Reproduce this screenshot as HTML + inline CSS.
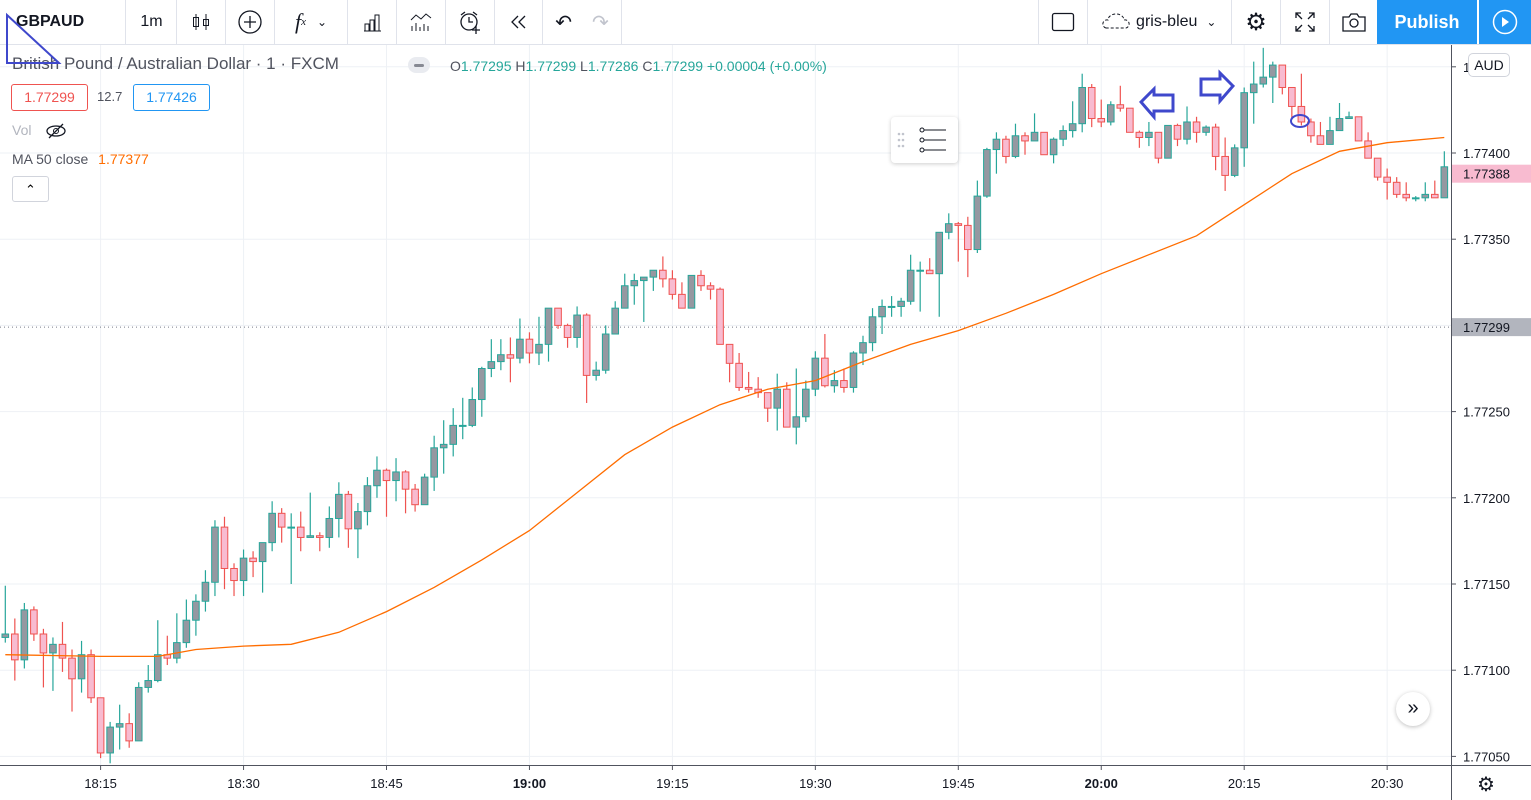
<!DOCTYPE html>
<html><head><meta charset="utf-8"><style>
body{margin:0;width:1531px;height:800px;overflow:hidden;background:#fff;font-family:"Liberation Sans",sans-serif;position:relative}
.tb{position:absolute;left:0;top:0;width:1531px;height:44px;border-bottom:1px solid #e0e3eb;background:#fff}
.ti{position:absolute;top:0;height:44px;display:flex;align-items:center;justify-content:center;font-size:16px;color:#131722;border-right:1px solid #e0e3eb}
.lg{position:absolute;font-size:16px;color:#50535e;white-space:nowrap}
.ax{position:absolute;font-size:13px;color:#131722}
</style></head><body>
<div class="tb">
<div class="ti" style="left:0;width:126px;font-weight:bold;justify-content:flex-start;padding-left:16px;box-sizing:border-box">GBPAUD</div>
<div class="ti" style="left:127px;width:49px">1m</div>
<div class="ti" style="left:177px;width:48px"><svg width="22" height="22"><path d="M6 3v16M16 3v16" stroke="#131722"/><rect x="3.5" y="6.5" width="5" height="9" fill="none" stroke="#131722"/><rect x="13.5" y="8.5" width="5" height="6" fill="none" stroke="#131722"/></svg></div>
<div class="ti" style="left:226px;width:48px"><svg width="24" height="24"><circle cx="12" cy="12" r="11" fill="none" stroke="#131722" stroke-width="1.3"/><path d="M12 6v12M6 12h12" stroke="#131722" stroke-width="1.3"/></svg></div>
<div class="ti" style="left:275px;width:72px;font-style:italic;font-family:'Liberation Serif',serif;font-size:22px">f<sub style="font-size:11px">x</sub>&nbsp;&nbsp;<span style="font-size:12px;font-style:normal">&#8964;</span></div>
<div class="ti" style="left:348px;width:48px"><svg width="22" height="22"><path d="M3 20h17M4 20v-7h4v7M9 20v-11h4v11M14 20v-16h4v16" fill="none" stroke="#131722"/></svg></div>
<div class="ti" style="left:397px;width:48px"><svg width="24" height="22"><path d="M2 9l5-5 5 4 5-5 5 4" fill="none" stroke="#131722"/><path d="M3 20v-5M7 20v-8M11 20v-4M15 20v-7M19 20v-5" stroke="#131722"/></svg></div>
<div class="ti" style="left:446px;width:48px"><svg width="26" height="26"><circle cx="12" cy="13" r="8" fill="none" stroke="#131722" stroke-width="1.3"/><path d="M12 8v5h4M4 6l4-3M20 6l-4-3M19 17v8M15 21h8" fill="none" stroke="#131722" stroke-width="1.3"/></svg></div>
<div class="ti" style="left:495px;width:47px"><svg width="20" height="16"><path d="M9 2L3 8l6 6M16 2l-6 6 6 6" fill="none" stroke="#131722" stroke-width="1.3"/></svg></div>
<div class="ti" style="left:543px;width:78px;gap:20px"><span style="font-size:20px">&#8630;</span><span style="font-size:20px;color:#c1c4cd">&#8631;</span></div>
<div class="ti" style="left:1038px;width:48px;border-left:1px solid #e0e3eb"><svg width="24" height="20"><rect x="1.5" y="1.5" width="21" height="17" rx="2" fill="none" stroke="#131722" stroke-width="1.3"/></svg></div>
<div class="ti" style="left:1087px;width:144px"><svg width="30" height="20"><path d="M4 16a4 4 0 0 1 2-8 8 6 0 0 1 16 0 4 4 0 0 1 2 8z" fill="none" stroke="#131722" stroke-dasharray="3 2"/></svg>&nbsp;gris-bleu&nbsp;&nbsp;<span style="font-size:12px">&#8964;</span></div>
<div class="ti" style="left:1232px;width:48px;font-size:24px">&#9881;</div>
<div class="ti" style="left:1281px;width:48px"><svg width="22" height="22"><path d="M2 7V2h5M2 2l6 6M15 2h5v5M20 2l-6 6M2 15v5h5M2 20l6-6M20 15v5h-5M20 20l-6-6" fill="none" stroke="#131722" stroke-width="1.3"/></svg></div>
<div class="ti" style="left:1330px;width:47px"><svg width="26" height="22"><path d="M2 6h6l2-3h6l2 3h6v14H2z" fill="none" stroke="#131722" stroke-width="1.3"/><circle cx="13" cy="12" r="4" fill="none" stroke="#131722" stroke-width="1.3"/></svg></div>
<div class="ti" style="left:1377px;width:100px;background:#2196f3;color:#fff;font-weight:bold;font-size:18px;border:none">Publish</div>
<div class="ti" style="left:1479px;width:52px;background:#2196f3;border:none"><svg width="26" height="26"><circle cx="13" cy="13" r="11.5" fill="none" stroke="#fff" stroke-width="1.5"/><path d="M10 8l7 5-7 5z" fill="#fff"/></svg></div>
</div>

<svg id="chart" width="1531" height="755" style="position:absolute;left:0;top:45px"></svg>

<div class="lg" style="left:12px;top:54px;font-size:17px">British Pound / Australian Dollar · 1 · FXCM</div>
<div style="position:absolute;left:408px;top:57px;width:22px;height:16px;border-radius:8px;background:#e9ebf0"><div style="margin:7px 6px;height:3px;background:#868993;border-radius:2px"></div></div>
<div class="lg" style="left:450px;top:58px;font-size:14px;color:#26a69a"><span style="color:#50535e">O</span>1.77295 <span style="color:#50535e">H</span>1.77299 <span style="color:#50535e">L</span>1.77286 <span style="color:#50535e">C</span>1.77299 +0.00004 (+0.00%)</div>
<div style="position:absolute;left:11px;top:84px;width:75px;height:25px;border:1px solid #ef5350;border-radius:3px;color:#ef5350;font-size:14px;line-height:25px;text-align:center">1.77299</div>
<div class="lg" style="left:97px;top:89px;font-size:13px">12.7</div>
<div style="position:absolute;left:133px;top:84px;width:75px;height:25px;border:1px solid #2196f3;border-radius:3px;color:#2196f3;font-size:14px;line-height:25px;text-align:center">1.77426</div>
<div class="lg" style="left:12px;top:122px;font-size:14px;color:#b2b5be">Vol <svg width="22" height="16" style="vertical-align:middle;margin-left:10px"><ellipse cx="11" cy="8" rx="9" ry="5" fill="none" stroke="#131722" stroke-width="1.3"/><circle cx="11" cy="8" r="2.5" fill="none" stroke="#131722"/><path d="M4 15L18 1" stroke="#131722" stroke-width="1.3"/></svg></div>
<div class="lg" style="left:12px;top:151px;font-size:14px">MA 50 close <span style="color:#ff6d00;margin-left:6px">1.77377</span></div>
<div style="position:absolute;left:12px;top:176px;width:35px;height:24px;border:1px solid #d1d4dc;border-radius:3px;text-align:center;font-size:13px;line-height:26px">&#8963;</div>
<div style="position:absolute;left:891px;top:117px;width:67px;height:46px;background:#fff;border-radius:4px;box-shadow:0 1px 4px rgba(0,0,0,.2)"><svg width="67" height="46"><g fill="#c1c4cd"><circle cx="8" cy="17" r="1.3"/><circle cx="12" cy="17" r="1.3"/><circle cx="8" cy="23" r="1.3"/><circle cx="12" cy="23" r="1.3"/><circle cx="8" cy="29" r="1.3"/><circle cx="12" cy="29" r="1.3"/></g><g fill="none" stroke="#131722"><circle cx="31" cy="13" r="2"/><path d="M33 13h22"/><circle cx="31" cy="23" r="2"/><path d="M33 23h22"/><circle cx="31" cy="33" r="2"/><path d="M33 33h22"/></g></svg></div>
<div style="position:absolute;left:1396px;top:692px;width:34px;height:34px;border-radius:17px;background:#fff;box-shadow:0 1px 4px rgba(0,0,0,.25);text-align:center;line-height:32px;font-size:20px;color:#131722">&#187;</div>
<div style="position:absolute;left:1477px;top:772px;font-size:20px;color:#131722">&#9881;</div>

<script>
// OHLC in points above 1.77000 (1 point = 0.00001), one candle per minute starting 18:05
const opens=[119,121,106,135,121,110,115,107,95,109,84,52,67,69,59,90,94,109,107,116,129,140,151,183,159,152,165,163,174,191,183,183,177,178,177,188,202,182,192,207,216,210,215,205,196,212,229,231,242,242,257,275,279,283,281,292,284,289,310,300,293,306,271,274,295,310,323,326,328,332,327,318,310,329,323,321,289,278,264,263,261,252,263,241,247,263,281,265,268,264,284,290,305,311,311,314,332,332,330,354,359,358,344,375,402,408,398,410,407,412,399,408,413,417,438,420,418,428,426,412,409,412,397,416,408,418,412,415,398,387,403,435,440,444,451,438,427,418,410,405,413,420,421,407,397,386,383,376,374,374,376,374];
const highs=[149,130,139,137,124,119,128,112,117,112,84,70,80,75,93,103,129,120,133,141,144,158,187,189,162,170,169,174,198,194,191,192,203,180,195,209,204,197,212,224,217,223,216,208,214,236,245,252,258,264,276,292,292,293,304,296,305,310,310,301,311,307,279,300,314,330,330,328,332,340,332,325,329,332,325,322,289,284,273,270,261,272,267,275,268,285,295,274,275,285,294,310,315,317,316,341,337,339,354,365,360,363,384,403,412,410,417,412,423,412,409,416,430,446,440,431,430,439,426,413,418,412,416,417,427,421,416,417,409,405,438,453,461,453,451,438,446,420,418,421,429,424,421,412,397,391,386,383,375,383,384,401];
const lows=[116,94,101,117,90,88,99,76,87,81,49,46,54,55,59,87,93,103,104,113,120,134,143,147,143,143,154,145,169,174,150,169,177,169,171,177,171,165,184,200,189,198,191,192,196,204,214,224,234,241,247,270,274,267,278,278,277,279,298,287,287,255,268,272,295,310,312,302,320,322,315,310,310,320,315,289,267,262,261,258,244,239,241,231,244,259,264,261,261,261,277,285,295,305,305,312,308,330,305,350,337,328,342,374,388,394,397,399,407,399,394,404,409,412,415,415,416,424,412,403,404,394,397,404,405,406,410,390,378,386,392,417,438,429,434,420,416,406,405,405,413,420,407,397,384,373,374,372,372,372,374,374];
const closes=[121,106,135,121,110,115,107,95,109,84,52,67,69,59,90,94,109,107,116,129,140,151,183,159,152,165,163,174,191,183,183,177,178,177,188,202,182,192,207,216,210,215,205,196,212,229,231,242,242,257,275,279,283,281,292,284,289,310,300,293,306,271,274,295,310,323,326,328,332,327,318,310,329,323,321,289,278,264,263,261,252,263,241,247,263,281,265,268,264,284,290,305,311,311,314,332,332,330,354,359,358,344,375,402,408,398,410,407,412,399,408,413,417,438,420,418,428,426,412,409,412,397,416,408,418,412,415,398,387,403,435,440,444,451,438,427,418,410,405,413,420,421,407,397,386,383,376,374,374,376,374,392];
// MA 50 close, sampled at candle indices
const maIdx=[0,10,16,20,25,30,35,40,45,50,55,60,65,70,75,80,85,90,95,100,105,110,115,120,125,130,135,140,145,151];
const maVal=[109,108,108,112,114,115,122,134,148,164,181,203,225,241,254,263,268,279,289,297,307,318,330,341,352,370,388,401,406,409];
const priceTicks=["1.77450","1.77400","1.77350","1.77300","1.77250","1.77200","1.77150","1.77100","1.77050"];
const timeTicks=["18:15","18:30","18:45","19:00","19:15","19:30","19:45","20:00","20:15","20:30"];
const timeTickIdx=[10,25,40,55,70,85,100,115,130,145];

const svg=document.getElementById('chart');
const NS='http://www.w3.org/2000/svg';
const OY=45;
function yP(pts){return 153-OY+(400-pts)/50*86.2;}
function xI(i){return 5.3+i*9.53;}
function mk(tag,attrs,parent){const e=document.createElementNS(NS,tag);for(const k in attrs)e.setAttribute(k,attrs[k]);(parent||svg).appendChild(e);return e;}

// grid
priceTicks.forEach(t=>{
  const y=yP((parseFloat(t)-1.77)*1e5);
  const g=mk('line',{x1:0,x2:1451,y1:y,y2:y,stroke:'#eef1f5','stroke-width':1});
  
  
});
timeTickIdx.forEach(i=>{
  const x=xI(i);
  const g=mk('line',{x1:x,x2:x,y1:0,y2:720,stroke:'#eef1f5','stroke-width':1});
  
  
});
// dotted line 1.77299
const dl=mk('line',{x1:0,x2:1451,y1:yP(299),y2:yP(299),stroke:'#787b86','stroke-dasharray':'1 3'});



// candles
for(let i=0;i<opens.length;i++){
  const up=closes[i]>=opens[i];
  const x=xI(i);
  const wc=up?'#26a69a':'#ef5350';
  const g=mk('g',{});
  
  
  mk('line',{x1:x,x2:x,y1:yP(highs[i]),y2:yP(lows[i]),stroke:wc,'stroke-width':1.2},g);
  const yt=yP(Math.max(opens[i],closes[i])),yb=yP(Math.min(opens[i],closes[i]));
  mk('rect',{x:x-3.3,y:yt,width:6.6,height:Math.max(1,yb-yt),fill:up?'#9598a1':'#f8bbd0',stroke:wc,'stroke-width':1},g);
}
// MA line
let d='';
maIdx.forEach((i,k)=>{d+=(k?'L':'M')+xI(i).toFixed(1)+' '+yP(maVal[k]).toFixed(1);});
const ma=mk('path',{d:d,fill:'none',stroke:'#ff6d00','stroke-width':1.3});



// axes
const ax=mk('line',{x1:1451.5,x2:1451.5,y1:0,y2:755,stroke:'#50535e'});


const tx=mk('line',{x1:0,x2:1531,y1:720.5,y2:720.5,stroke:'#50535e'});


priceTicks.forEach(t=>{
  const y=yP((parseFloat(t)-1.77)*1e5);
  if(y<5)return;
  mk('line',{x1:1451,x2:1456,y1:y,y2:y,stroke:'#50535e'});
  const tt=mk('text',{x:1463,y:y+5,'font-size':13,fill:'#131722','font-family':'Liberation Sans'});
  tt.textContent=t;
  
  
});
timeTicks.forEach((t,k)=>{
  const x=xI(timeTickIdx[k]);
  mk('line',{x1:x,x2:x,y1:720,y2:725,stroke:'#50535e'});
  const tt=mk('text',{x:x,y:743,'font-size':13,fill:'#131722','text-anchor':'middle','font-family':'Liberation Sans','font-weight':(t.endsWith(':00')?'bold':'normal')});
  tt.textContent=t;
  
  
});
// price labels
function plabel(pts,txt,bg,fg,name){
  const y=yP(pts);
  const g=mk('g',{});
  
  
  mk('rect',{x:1452,y:y-9,width:79,height:18,fill:bg},g);
  const t=mk('text',{x:1463,y:y+5,'font-size':13,fill:fg,'font-family':'Liberation Sans'},g);
  t.textContent=txt;
}
plabel(299,'1.77299','#b2b5be','#131722','sell-price-label');
plabel(388,'1.77388','#f8bbd0','#131722','last-price-label');
</script>

<div style="position:absolute;left:1468px;top:53px;width:40px;height:22px;border:1px solid #d1d4dc;border-radius:5px;background:#fff;font-size:14px;text-align:center;line-height:22px;color:#131722">AUD</div>
<svg width="1531" height="800" style="position:absolute;left:0;top:0;pointer-events:none">
<path d="M7 15L59 63H7z" fill="none" stroke="#3f48cc" stroke-width="2"/>
<path d="M1141 102l13-13v6h19v16h-19v6z" fill="none" stroke="#3f48cc" stroke-width="3"/>
<path d="M1233 86l-13-13v6h-19v16h19v6z" fill="none" stroke="#3f48cc" stroke-width="3"/>
<ellipse cx="1300" cy="121" rx="9" ry="6" fill="none" stroke="#3f48cc" stroke-width="2"/>
</svg>
</body></html>
